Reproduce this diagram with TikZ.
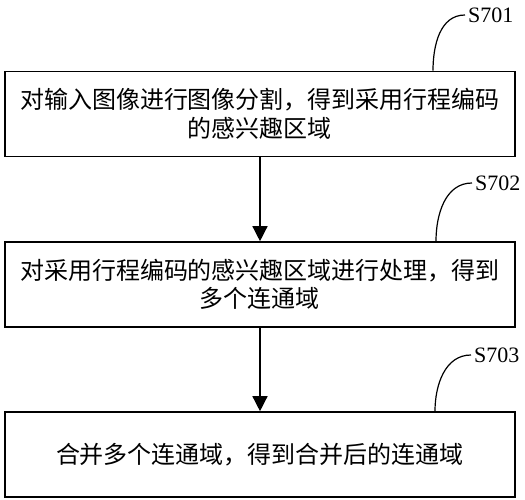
\documentclass[tikz,border=0pt]{standalone}
\usepackage{fontspec}
\setmainfont{Liberation Serif}
\newfontfamily\cjk{Noto Sans CJK SC}
\usepackage{tikz}
\usetikzlibrary{arrows.meta, positioning, calc}

\begin{document}
\begin{tikzpicture}[x=1pt, y=1pt,
		stepbox/.style = {draw, line width=1.6pt, minimum width=510pt, minimum height=85pt, text width=500pt, align=center, inner sep=0pt, font=\cjk\fontsize{24}{28.5}\selectfont},
		steplab/.style = {font=\fontsize{22}{24}\selectfont, inner sep=0pt},
		flow/.style = {line width=1.4pt, -{Triangle[length=15pt, width=15pt]}},
		lead/.style = {line width=1.2pt}]
		\useasboundingbox (0,0) rectangle (525,-500);
		\node[stepbox] (seg) at (260,-114){对输入图像进行图像分割，得到采用行程编码\\的感兴趣区域};
		\node[stepbox] (proc) at (260,-284.5){对采用行程编码的感兴趣区域进行处理，得到\\多个连通域};
		\node[stepbox] (merge) at (260,-454.5){合并多个连通域，得到合并后的连通域};
		\node[steplab, anchor=west] (lab_seg) at (468,-15){S701};
		\node[steplab, anchor=west] (lab_proc) at (475,-183){S702};
		\node[steplab, anchor=west] (lab_merge) at (474,-355){S703};
		\coordinate (t_seg) at ([xshift=173pt]seg.north);
		\coordinate (t_proc) at ([xshift=176pt]proc.north);
		\coordinate (t_merge) at ([xshift=175pt]merge.north);
		\draw[flow] (seg) -- (proc);
		\draw[flow] (proc) -- (merge);
		\draw[lead] ([xshift=-3pt]lab_seg.west) to[out=180, in=90] (t_seg);
		\draw[lead] ([xshift=-3pt]lab_proc.west) to[out=180, in=90] (t_proc);
		\draw[lead] ([xshift=-3pt]lab_merge.west) to[out=180, in=90] (t_merge);
	\end{tikzpicture}
\end{document}
